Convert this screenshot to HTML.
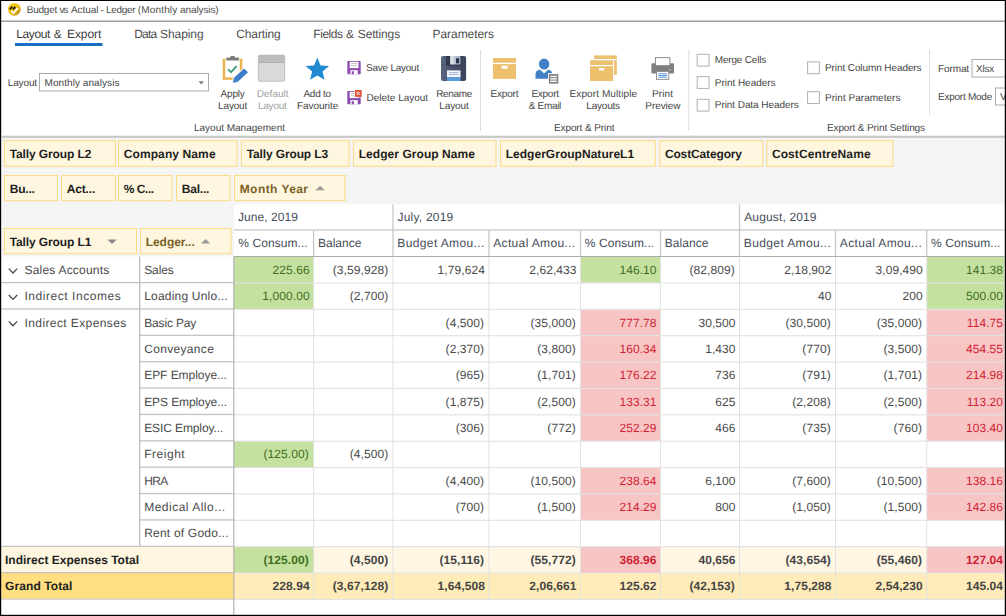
<!DOCTYPE html>
<html><head><meta charset="utf-8"><title>Budget vs Actual - Ledger (Monthly analysis)</title>
<style>
html,body{margin:0;padding:0;overflow:hidden;}
body{width:1006px;height:616px;position:relative;overflow:hidden;background:#fff;font-family:'Liberation Sans',sans-serif;}
.t{position:absolute;white-space:pre;font-family:'Liberation Sans',sans-serif;text-rendering:geometricPrecision;}
div,svg{box-sizing:border-box;}
svg{position:absolute;overflow:visible;}
</style></head><body>
<svg width="1006" height="616" viewBox="0 0 1006 616" style="left:0;top:0">
<rect x="0" y="20" width="1006" height="1" fill="#cdcdcd"/>
<rect x="0" y="21" width="1006" height="1" fill="#a0a0a0"/>
<svg x="7" y="2" width="15" height="15" viewBox="0 0 15 15" overflow="visible"><defs><linearGradient id="gd" x1="0" y1="0" x2="1" y2="1"><stop offset="0" stop-color="#fdd820"/><stop offset="0.45" stop-color="#f4c416"/><stop offset="0.75" stop-color="#d3a31c"/><stop offset="1" stop-color="#bf8f1a"/></linearGradient></defs>
<circle cx="7.3" cy="7.3" r="6.4" fill="url(#gd)"/>
<path d="M4.4 9 L6.5 11 L10.9 6.1" stroke="#fff" stroke-width="1.6" fill="none"/>
<path d="M2.8 7.4 L5.4 4.5 M6 7.4 L8.3 4.8" stroke="#1a1a1a" stroke-width="1.8" fill="none"/></svg>
<rect x="15" y="43" width="87.5" height="3" fill="#1b6ec2"/>
<rect x="39.5" y="73.5" width="169" height="17.5" fill="#fff" stroke="#ababab"/>
<path d="M198.6 81.3 H204 L201.3 84.5 Z" fill="#808080"/>
<g>
<rect x="222.7" y="58.8" width="19.6" height="21" fill="#e9b24a"/>
<rect x="225.2" y="59.4" width="14.6" height="18" fill="#fff"/>
<rect x="226.4" y="57.6" width="12.5" height="2.9" fill="#7a7a7a"/>
<rect x="230.3" y="56" width="4.6" height="2.5" rx="1.2" fill="#7a7a7a"/>
<path d="M228 69.4 L231 72.2 L236.6 66.2" stroke="#3f9a78" stroke-width="1.8" fill="none"/>
<path d="M244 68.5 L248 72.2 L237.5 82 L233.3 82.3 L233.6 78.2 Z" fill="#fff" stroke="#fff" stroke-width="2"/>
<path d="M244 68.5 L248 72.2 L237.5 82 L233.6 78.2 Z" fill="#3b7cc9"/>
<path d="M233.6 78.2 L237.5 82 L233 82.8 Z" fill="#3b7cc9"/>
</g>
<g>
<rect x="258.3" y="55.1" width="26.4" height="26.2" rx="1.6" fill="#d9d9d9" stroke="#b5b5b5" stroke-width="0.8"/>
<path d="M258.3 56.7 a1.6 1.6 0 0 1 1.6 -1.6 h23.2 a1.6 1.6 0 0 1 1.6 1.6 v5.8 h-26.4 Z" fill="#bcbcbc"/>
<rect x="258.3" y="62.2" width="26.4" height="0.8" fill="#a8a8a8"/>
</g>
<path d="M317.30 57.60 L320.53 65.45 L329.00 66.10 L322.53 71.60 L324.53 79.85 L317.30 75.40 L310.07 79.85 L312.07 71.60 L305.60 66.10 L314.07 65.45 Z" fill="#1f89d2"/>
<g transform="translate(347.3 61)">
<rect x="0" y="0" width="13.4" height="13.2" rx="0.8" fill="#8d4db0"/>
<rect x="2.4" y="0.8" width="8.8" height="6.3" fill="#fff"/>
<rect x="3.6" y="2.2" width="6.2" height="0.9" fill="#bbb"/><rect x="3.6" y="4.3" width="6.2" height="0.9" fill="#bbb"/>
<rect x="3.1" y="9.2" width="7.3" height="4" fill="#fff"/>
<rect x="4.4" y="10.2" width="2.2" height="3" fill="#8d4db0"/></g>
<g transform="translate(347.3 91)">
<rect x="0" y="0" width="13.4" height="13.2" rx="0.8" fill="#8d4db0"/>
<rect x="2.4" y="0.8" width="8.8" height="6.3" fill="#fff"/>
<rect x="3.6" y="2.2" width="6.2" height="0.9" fill="#bbb"/><rect x="3.6" y="4.3" width="6.2" height="0.9" fill="#bbb"/>
<rect x="3.1" y="9.2" width="7.3" height="4" fill="#fff"/>
<rect x="4.4" y="10.2" width="2.2" height="3" fill="#8d4db0"/><rect x="7" y="-1.6" width="8" height="8" fill="#fff"/><rect x="7.6" y="-1" width="6.8" height="6.9" fill="#e0553b"/>
<path d="M9.5 0.9 L12.5 3.9 M12.5 0.9 L9.5 3.9" stroke="#fff" stroke-width="1"/></g>
<g>
<defs><linearGradient id="nv" x1="0" y1="0" x2="1" y2="0"><stop offset="0" stop-color="#5a6680"/><stop offset="0.5" stop-color="#454f68"/><stop offset="1" stop-color="#3a435a"/></linearGradient>
<linearGradient id="sh" x1="0" y1="0" x2="1" y2="0"><stop offset="0" stop-color="#e8edf4"/><stop offset="1" stop-color="#9aa6ba"/></linearGradient></defs>
<rect x="441" y="56" width="25.1" height="25" rx="2" fill="url(#nv)"/>
<rect x="446" y="56" width="15.8" height="10" fill="#333b50"/>
<rect x="450.2" y="56" width="10.3" height="8.5" fill="url(#sh)"/>
<rect x="455.9" y="58.2" width="3.1" height="5.1" fill="#2c3346"/>
<rect x="447" y="70.4" width="13.5" height="6.8" fill="#f2f5fa"/>
<rect x="449" y="72.2" width="9.5" height="0.9" fill="#9fb0d0"/><rect x="449" y="74" width="9.5" height="0.9" fill="#9fb0d0"/>
<rect x="447" y="77" width="13.5" height="4" fill="#5b9bd8"/>
</g>
<rect x="480" y="50" width="1" height="81" fill="#dcdcdc"/>
<g><rect x="493" y="58" width="23" height="4.8" fill="#ecc06c"/><rect x="493" y="64.1" width="23" height="14.8" fill="#ecc06c"/>
<rect x="501.6" y="65.7" width="6" height="3" fill="#fff"/></g>
<g>
<ellipse cx="544.1" cy="64.1" rx="5.2" ry="5.5" fill="#4180c4"/>
<path d="M535.5 78.7 V74.2 Q535.5 70.2 540.2 69.8 L544.1 73.4 L548 69.8 Q552.3 70.2 552.3 74.2 V78.7 Z" fill="#4180c4"/>
<rect x="548" y="73.2" width="11.2" height="11.3" fill="#fff"/>
<rect x="548.9" y="74.1" width="9.4" height="9.5" fill="#7f7f7f"/>
<rect x="550.4" y="75.8" width="6.4" height="1.4" fill="#fff"/><rect x="550.4" y="78.2" width="6.4" height="1.4" fill="#fff"/><rect x="550.4" y="80.6" width="6.4" height="1.4" fill="#fff"/>
</g>
<g>
<rect x="594.1" y="55.4" width="22.7" height="3.6" fill="#ecc06c"/><rect x="594.1" y="60" width="22.7" height="14.9" fill="#ecc06c"/>
<rect x="589" y="59.4" width="25.1" height="22.6" fill="#fff"/>
<rect x="590" y="60.3" width="23.1" height="4.7" fill="#ecc06c"/><rect x="590" y="66.2" width="23.1" height="14.8" fill="#ecc06c"/>
<rect x="598.9" y="68.1" width="5.4" height="2.4" fill="#fff"/></g>
<g>
<rect x="651.4" y="63.3" width="22.6" height="10.3" rx="1" fill="#808080"/>
<rect x="655.4" y="57.7" width="14.5" height="8" fill="#fff" stroke="#808080" stroke-width="0.9"/>
<rect x="656.5" y="71.3" width="12.3" height="8" fill="#fff" stroke="#808080" stroke-width="0.9"/>
<rect x="658.3" y="73.3" width="8.8" height="0.9" fill="#4a86cc"/><rect x="658.3" y="75" width="8.8" height="0.9" fill="#4a86cc"/><rect x="658.3" y="76.7" width="8.8" height="0.9" fill="#4a86cc"/>
<rect x="669.4" y="69.2" width="1.4" height="1.4" fill="#d0d0d0"/></g>
<rect x="688.3" y="50" width="1" height="81" fill="#dcdcdc"/>
<rect x="697.2" y="54.3" width="11.8" height="11.8" fill="#fff" stroke="#b0b0b0"/>
<rect x="697.2" y="76.6" width="11.8" height="11.8" fill="#fff" stroke="#b0b0b0"/>
<rect x="697.2" y="99.3" width="11.8" height="11.8" fill="#fff" stroke="#b0b0b0"/>
<rect x="807.6" y="61.9" width="11.8" height="11.8" fill="#fff" stroke="#b0b0b0"/>
<rect x="807.6" y="91.7" width="11.8" height="11.8" fill="#fff" stroke="#b0b0b0"/>
<rect x="929.1" y="50" width="1" height="65.5" fill="#dcdcdc"/>
<rect x="972" y="59.5" width="39" height="17.5" fill="#fff" stroke="#ababab"/>
<rect x="995.5" y="88" width="19" height="17" fill="#fff" stroke="#ababab"/>
<rect x="0" y="137.3" width="1006" height="67.2" fill="#f4f4f5"/>
<rect x="0" y="135.5" width="1006" height="0.8" fill="#dedede"/>
<rect x="0" y="136.2" width="1006" height="1.5" fill="#bcbcbc"/>
<rect x="0" y="204" width="234" height="52.5" fill="#f4f4f5"/>
<rect x="1" y="135" width="1" height="121.5" fill="#fff"/>
<rect x="0" y="169.8" width="1006" height="1" fill="#fbfbfb"/>
<rect x="4.5" y="140.7" width="111" height="25.6" fill="#fff6df" stroke="#fddb84"/>
<rect x="118.5" y="140.7" width="118.5" height="25.6" fill="#fff6df" stroke="#fddb84"/>
<rect x="241.5" y="140.7" width="107.5" height="25.6" fill="#fff6df" stroke="#fddb84"/>
<rect x="353.5" y="140.7" width="142.5" height="25.6" fill="#fff6df" stroke="#fddb84"/>
<rect x="500.5" y="140.7" width="154.8" height="25.6" fill="#fff6df" stroke="#fddb84"/>
<rect x="659.7" y="140.7" width="103.1" height="25.6" fill="#fff6df" stroke="#fddb84"/>
<rect x="766.7" y="140.7" width="126.1" height="25.6" fill="#fff6df" stroke="#fddb84"/>
<rect x="4.5" y="175.5" width="53" height="25.2" fill="#fff6df" stroke="#fddb84"/>
<rect x="61.5" y="175.5" width="54" height="25.2" fill="#fff6df" stroke="#fddb84"/>
<rect x="118.5" y="175.5" width="53.5" height="25.2" fill="#fff6df" stroke="#fddb84"/>
<rect x="176.5" y="175.5" width="53.5" height="25.2" fill="#fff6df" stroke="#fddb84"/>
<rect x="234.5" y="175.5" width="110.5" height="25.2" fill="#fff6df" stroke="#fddb84"/>
<path d="M315.5 190.3 L320.1 185.8 L324.7 190.3 Z" fill="#9a9a9a"/>
<rect x="4.5" y="228.5" width="132" height="25.2" fill="#fff6df" stroke="#fddb84"/>
<path d="M107.3 239.5 H116.8 L112.05 244.1 Z" fill="#8a8a8a"/>
<rect x="140.5" y="228.5" width="90.5" height="25.2" fill="#fff6df" stroke="#fddb84"/>
<path d="M201 243.5 L205.6 239 L210.2 243.5 Z" fill="#9a9a9a"/>
<rect x="234" y="204.5" width="772" height="52" fill="#fff"/>
<rect x="1" y="546.57" width="233" height="26.37" fill="#fff6e0"/>
<rect x="234" y="546.57" width="770.7" height="26.37" fill="#fff7e4"/>
<rect x="1" y="572.94" width="233" height="26.37" fill="#ffdf80"/>
<rect x="234" y="572.94" width="770.7" height="26.37" fill="#ffecb8"/>
<path d="M8.8 268.60 L13 273.00 L17.2 268.60" stroke="#444" stroke-width="1.25" fill="none"/>
<rect x="234" y="256.5" width="79.6" height="26.37" fill="#c5e1a0"/>
<rect x="580.5" y="256.5" width="80" height="26.37" fill="#c5e1a0"/>
<rect x="926.75" y="256.5" width="77.95" height="26.37" fill="#c5e1a0"/>
<path d="M8.8 294.97 L13 299.37 L17.2 294.97" stroke="#444" stroke-width="1.25" fill="none"/>
<rect x="234" y="282.87" width="79.6" height="26.37" fill="#c5e1a0"/>
<rect x="926.75" y="282.87" width="77.95" height="26.37" fill="#c5e1a0"/>
<path d="M8.8 321.34 L13 325.74 L17.2 321.34" stroke="#444" stroke-width="1.25" fill="none"/>
<rect x="580.5" y="309.24" width="80" height="26.37" fill="#f8c5c5"/>
<rect x="926.75" y="309.24" width="77.95" height="26.37" fill="#f8c5c5"/>
<rect x="580.5" y="335.61" width="80" height="26.37" fill="#f8c5c5"/>
<rect x="926.75" y="335.61" width="77.95" height="26.37" fill="#f8c5c5"/>
<rect x="580.5" y="361.98" width="80" height="26.37" fill="#f8c5c5"/>
<rect x="926.75" y="361.98" width="77.95" height="26.37" fill="#f8c5c5"/>
<rect x="580.5" y="388.35" width="80" height="26.37" fill="#f8c5c5"/>
<rect x="926.75" y="388.35" width="77.95" height="26.37" fill="#f8c5c5"/>
<rect x="580.5" y="414.72" width="80" height="26.37" fill="#f8c5c5"/>
<rect x="926.75" y="414.72" width="77.95" height="26.37" fill="#f8c5c5"/>
<rect x="234" y="441.09" width="79.6" height="26.37" fill="#c5e1a0"/>
<rect x="580.5" y="467.46" width="80" height="26.37" fill="#f8c5c5"/>
<rect x="926.75" y="467.46" width="77.95" height="26.37" fill="#f8c5c5"/>
<rect x="580.5" y="493.83" width="80" height="26.37" fill="#f8c5c5"/>
<rect x="926.75" y="493.83" width="77.95" height="26.37" fill="#f8c5c5"/>
<rect x="234" y="546.57" width="79.6" height="26.37" fill="#c5e1a0"/>
<rect x="580.5" y="546.57" width="80" height="26.37" fill="#f8c5c5"/>
<rect x="926.75" y="546.57" width="77.95" height="26.37" fill="#f8c5c5"/>
<rect x="234" y="282.42" width="770.7" height="1.1" fill="#e2e2e2"/>
<rect x="234" y="308.79" width="770.7" height="1.1" fill="#e2e2e2"/>
<rect x="234" y="335.16" width="770.7" height="1.1" fill="#e2e2e2"/>
<rect x="234" y="361.53" width="770.7" height="1.1" fill="#e2e2e2"/>
<rect x="234" y="387.9" width="770.7" height="1.1" fill="#e2e2e2"/>
<rect x="234" y="414.27" width="770.7" height="1.1" fill="#e2e2e2"/>
<rect x="234" y="440.64" width="770.7" height="1.1" fill="#e2e2e2"/>
<rect x="234" y="467.01" width="770.7" height="1.1" fill="#e2e2e2"/>
<rect x="234" y="493.38" width="770.7" height="1.1" fill="#e2e2e2"/>
<rect x="234" y="519.75" width="770.7" height="1.1" fill="#e2e2e2"/>
<rect x="234" y="546.12" width="770.7" height="1.1" fill="#e2e2e2"/>
<rect x="234" y="572.49" width="770.7" height="1.1" fill="#e2e2e2"/>
<rect x="234" y="598.86" width="770.7" height="1.1" fill="#e2e2e2"/>
<rect x="313.1" y="256.5" width="1" height="342.81" fill="#e2e2e2"/>
<rect x="392.5" y="256.5" width="1" height="342.81" fill="#e2e2e2"/>
<rect x="488.4" y="256.5" width="1" height="342.81" fill="#e2e2e2"/>
<rect x="580" y="256.5" width="1" height="342.81" fill="#e2e2e2"/>
<rect x="660" y="256.5" width="1" height="342.81" fill="#e2e2e2"/>
<rect x="739" y="256.5" width="1" height="342.81" fill="#e2e2e2"/>
<rect x="835" y="256.5" width="1" height="342.81" fill="#e2e2e2"/>
<rect x="926.25" y="256.5" width="1" height="342.81" fill="#e2e2e2"/>
<rect x="234" y="229.4" width="772" height="1.2" fill="#c4c4c4"/>
<rect x="234" y="256" width="772" height="1" fill="#acacac"/>
<rect x="392.4" y="204.5" width="1.2" height="52" fill="#c4c4c4"/>
<rect x="738.9" y="204.5" width="1.2" height="52" fill="#c4c4c4"/>
<rect x="313" y="230" width="1.2" height="26" fill="#c4c4c4"/>
<rect x="488.3" y="230" width="1.2" height="26" fill="#c4c4c4"/>
<rect x="579.9" y="230" width="1.2" height="26" fill="#c4c4c4"/>
<rect x="659.9" y="230" width="1.2" height="26" fill="#c4c4c4"/>
<rect x="834.9" y="230" width="1.2" height="26" fill="#c4c4c4"/>
<rect x="926.15" y="230" width="1.2" height="26" fill="#c4c4c4"/>
<rect x="1" y="281.97" width="138" height="1.25" fill="#c2c2c2"/>
<rect x="1" y="308.34" width="138" height="1.25" fill="#c2c2c2"/>
<rect x="139" y="281.97" width="95" height="1.25" fill="#c2c2c2"/>
<rect x="139" y="308.34" width="95" height="1.25" fill="#c2c2c2"/>
<rect x="139" y="334.71" width="95" height="1.25" fill="#c2c2c2"/>
<rect x="139" y="361.08" width="95" height="1.25" fill="#c2c2c2"/>
<rect x="139" y="387.45" width="95" height="1.25" fill="#c2c2c2"/>
<rect x="139" y="413.82" width="95" height="1.25" fill="#c2c2c2"/>
<rect x="139" y="440.19" width="95" height="1.25" fill="#c2c2c2"/>
<rect x="139" y="466.56" width="95" height="1.25" fill="#c2c2c2"/>
<rect x="139" y="492.93" width="95" height="1.25" fill="#c2c2c2"/>
<rect x="139" y="519.3" width="95" height="1.25" fill="#c2c2c2"/>
<rect x="1" y="545.67" width="233" height="1.25" fill="#c2c2c2"/>
<rect x="1" y="572.04" width="233" height="1.25" fill="#c2c2c2"/>
<rect x="1" y="598.41" width="233" height="1.25" fill="#cdcdd0"/>
<rect x="139.05" y="256.5" width="1.3" height="290.07" fill="#bcbcbc"/>
<rect x="233.25" y="256.5" width="1.15" height="359.5" fill="#b0b0b0"/>
<rect x="1004.7" y="137" width="0.5" height="478" fill="#fff"/>
</svg>
<span class="t" style="left:26.80px;top:4.00px;font-size:10px;line-height:14px;color:#4b4b4b;letter-spacing:-0.251px;">Budget</span>
<span class="t" style="left:59.60px;top:4.00px;font-size:10px;line-height:14px;color:#4b4b4b;letter-spacing:-1.300px;">vs</span>
<span class="t" style="left:71.00px;top:4.00px;font-size:10px;line-height:14px;color:#4b4b4b;letter-spacing:-0.049px;">Actual</span>
<span class="t" style="left:100.60px;top:4.00px;font-size:10px;line-height:14px;color:#4b4b4b;letter-spacing:-0.844px;">-</span>
<span class="t" style="left:106.00px;top:4.00px;font-size:10px;line-height:14px;color:#4b4b4b;letter-spacing:-0.307px;">Ledger</span>
<span class="t" style="left:137.80px;top:4.00px;font-size:10px;line-height:14px;color:#4b4b4b;letter-spacing:0.155px;">(Monthly</span>
<span class="t" style="left:180.00px;top:4.00px;font-size:10px;line-height:14px;color:#4b4b4b;letter-spacing:-0.097px;">analysis)</span>
<span class="t" style="left:16.20px;top:26.00px;font-size:12px;line-height:16px;color:#3c3c3c;letter-spacing:-0.372px;">Layout</span>
<span class="t" style="left:53.80px;top:26.00px;font-size:12px;line-height:16px;color:#3c3c3c;letter-spacing:0.584px;">&amp;</span>
<span class="t" style="left:67.00px;top:26.00px;font-size:12px;line-height:16px;color:#3c3c3c;letter-spacing:-0.081px;">Export</span>
<span class="t" style="left:134.30px;top:26.00px;font-size:12px;line-height:16px;color:#4e4e4e;letter-spacing:-0.865px;">Data</span>
<span class="t" style="left:160.00px;top:26.00px;font-size:12px;line-height:16px;color:#4e4e4e;letter-spacing:-0.064px;">Shaping</span>
<span class="t" style="left:236.30px;top:26.00px;font-size:12px;line-height:16px;color:#4e4e4e;letter-spacing:-0.132px;">Charting</span>
<span class="t" style="left:313.30px;top:26.00px;font-size:12px;line-height:16px;color:#4e4e4e;letter-spacing:-0.453px;">Fields</span>
<span class="t" style="left:346.00px;top:26.00px;font-size:12px;line-height:16px;color:#4e4e4e;letter-spacing:-0.016px;">&amp;</span>
<span class="t" style="left:357.80px;top:26.00px;font-size:12px;line-height:16px;color:#4e4e4e;letter-spacing:-0.145px;">Settings</span>
<span class="t" style="left:432.50px;top:26.00px;font-size:12px;line-height:16px;color:#4e4e4e;letter-spacing:-0.053px;">Parameters</span>
<span class="t" style="left:7.70px;top:77.00px;font-size:10px;line-height:14px;color:#454545;letter-spacing:-0.122px;">Layout</span>
<span class="t" style="left:44.50px;top:77.00px;font-size:10px;line-height:14px;color:#454545;letter-spacing:0.067px;">Monthly analysis</span>
<span class="t" style="left:220.60px;top:88.00px;font-size:10px;line-height:14px;color:#454545;letter-spacing:-0.203px;">Apply</span>
<span class="t" style="left:218.11px;top:100.00px;font-size:10px;line-height:14px;color:#454545;letter-spacing:-0.172px;">Layout</span>
<span class="t" style="left:256.81px;top:88.00px;font-size:10px;line-height:14px;color:#a0a0a0;letter-spacing:0.016px;">Default</span>
<span class="t" style="left:257.90px;top:100.00px;font-size:10px;line-height:14px;color:#a0a0a0;letter-spacing:-0.205px;">Layout</span>
<span class="t" style="left:303.43px;top:88.00px;font-size:10px;line-height:14px;color:#454545;letter-spacing:-0.237px;">Add to</span>
<span class="t" style="left:296.97px;top:100.00px;font-size:10px;line-height:14px;color:#454545;letter-spacing:-0.054px;">Favourite</span>
<span class="t" style="left:366.00px;top:62.00px;font-size:10px;line-height:14px;color:#454545;letter-spacing:-0.237px;">Save Layout</span>
<span class="t" style="left:366.60px;top:92.00px;font-size:10px;line-height:14px;color:#454545;letter-spacing:-0.017px;">Delete Layout</span>
<span class="t" style="left:436.15px;top:88.00px;font-size:10px;line-height:14px;color:#454545;letter-spacing:-0.302px;">Rename</span>
<span class="t" style="left:439.33px;top:100.00px;font-size:10px;line-height:14px;color:#454545;letter-spacing:-0.139px;">Layout</span>
<span class="t" style="left:193.99px;top:122.00px;font-size:10px;line-height:14px;color:#454545;letter-spacing:-0.010px;">Layout Management</span>
<span class="t" style="left:490.51px;top:88.00px;font-size:10px;line-height:14px;color:#454545;letter-spacing:-0.184px;">Export</span>
<span class="t" style="left:531.42px;top:88.00px;font-size:10px;line-height:14px;color:#454545;letter-spacing:-0.268px;">Export</span>
<span class="t" style="left:528.70px;top:100.00px;font-size:10px;line-height:14px;color:#454545;letter-spacing:-0.308px;">&amp; Email</span>
<span class="t" style="left:569.60px;top:88.00px;font-size:10px;line-height:14px;color:#454545;letter-spacing:0.091px;">Export Multiple</span>
<span class="t" style="left:586.34px;top:100.00px;font-size:10px;line-height:14px;color:#454545;letter-spacing:-0.219px;">Layouts</span>
<span class="t" style="left:652.00px;top:88.00px;font-size:10px;line-height:14px;color:#454545;letter-spacing:0.108px;">Print</span>
<span class="t" style="left:645.36px;top:100.00px;font-size:10px;line-height:14px;color:#454545;letter-spacing:-0.083px;">Preview</span>
<span class="t" style="left:553.91px;top:122.00px;font-size:10px;line-height:14px;color:#454545;letter-spacing:-0.086px;">Export &amp; Print</span>
<span class="t" style="left:714.80px;top:54.00px;font-size:10px;line-height:14px;color:#454545;letter-spacing:-0.196px;">Merge Cells</span>
<span class="t" style="left:714.80px;top:77.00px;font-size:10px;line-height:14px;color:#454545;letter-spacing:-0.034px;">Print Headers</span>
<span class="t" style="left:714.80px;top:99.00px;font-size:10px;line-height:14px;color:#454545;letter-spacing:-0.069px;">Print Data Headers</span>
<span class="t" style="left:825.00px;top:62.00px;font-size:10px;line-height:14px;color:#454545;letter-spacing:-0.094px;">Print Column Headers</span>
<span class="t" style="left:825.00px;top:92.00px;font-size:10px;line-height:14px;color:#454545;letter-spacing:0.029px;">Print Parameters</span>
<span class="t" style="left:826.94px;top:122.00px;font-size:10px;line-height:14px;color:#454545;letter-spacing:-0.113px;">Export &amp; Print Settings</span>
<span class="t" style="left:938.00px;top:63.00px;font-size:10px;line-height:14px;color:#454545;letter-spacing:-0.112px;">Format</span>
<span class="t" style="left:976.00px;top:63.00px;font-size:10px;line-height:14px;color:#454545;letter-spacing:-0.227px;">Xlsx</span>
<span class="t" style="left:938.00px;top:91.00px;font-size:10px;line-height:14px;color:#454545;letter-spacing:-0.246px;">Export Mode</span>
<span class="t" style="left:1000.00px;top:91.00px;font-size:10px;line-height:14px;color:#454545;">V</span>
<span class="t" style="left:9.70px;top:146.00px;font-size:12px;line-height:16px;color:#1e1e1e;font-weight:700;letter-spacing:-0.116px;">Tally Group L2</span>
<span class="t" style="left:123.70px;top:146.00px;font-size:12px;line-height:16px;color:#1e1e1e;font-weight:700;letter-spacing:0.108px;">Company Name</span>
<span class="t" style="left:246.70px;top:146.00px;font-size:12px;line-height:16px;color:#1e1e1e;font-weight:700;letter-spacing:-0.130px;">Tally Group L3</span>
<span class="t" style="left:358.70px;top:146.00px;font-size:12px;line-height:16px;color:#1e1e1e;font-weight:700;letter-spacing:0.055px;">Ledger Group Name</span>
<span class="t" style="left:505.70px;top:146.00px;font-size:12px;line-height:16px;color:#1e1e1e;font-weight:700;letter-spacing:0.025px;">LedgerGroupNatureL1</span>
<span class="t" style="left:664.90px;top:146.00px;font-size:12px;line-height:16px;color:#1e1e1e;font-weight:700;letter-spacing:-0.141px;">CostCategory</span>
<span class="t" style="left:771.90px;top:146.00px;font-size:12px;line-height:16px;color:#1e1e1e;font-weight:700;letter-spacing:0.103px;">CostCentreName</span>
<span class="t" style="left:9.70px;top:181.00px;font-size:12px;line-height:16px;color:#1e1e1e;font-weight:700;letter-spacing:-0.200px;">Bu...</span>
<span class="t" style="left:66.70px;top:181.00px;font-size:12px;line-height:16px;color:#1e1e1e;font-weight:700;letter-spacing:-0.141px;">Act...</span>
<span class="t" style="left:123.70px;top:181.00px;font-size:12px;line-height:16px;color:#1e1e1e;font-weight:700;letter-spacing:-0.445px;">% C...</span>
<span class="t" style="left:181.70px;top:181.00px;font-size:12px;line-height:16px;color:#1e1e1e;font-weight:700;letter-spacing:-0.198px;">Bal...</span>
<span class="t" style="left:239.70px;top:181.00px;font-size:12px;line-height:16px;color:#7a6128;font-weight:700;letter-spacing:0.433px;">Month Year</span>
<span class="t" style="left:9.70px;top:234.00px;font-size:12px;line-height:16px;color:#1e1e1e;font-weight:700;letter-spacing:-0.116px;">Tally Group L1</span>
<span class="t" style="left:145.70px;top:234.00px;font-size:12px;line-height:16px;color:#7a6128;font-weight:700;letter-spacing:-0.040px;">Ledger...</span>
<span class="t" style="left:238.00px;top:209.00px;font-size:12px;line-height:16px;color:#464d59;letter-spacing:0.061px;">June, 2019</span>
<span class="t" style="left:397.50px;top:209.00px;font-size:12px;line-height:16px;color:#464d59;letter-spacing:0.219px;">July, 2019</span>
<span class="t" style="left:744.20px;top:209.00px;font-size:12px;line-height:16px;color:#464d59;letter-spacing:0.147px;">August, 2019</span>
<span class="t" style="left:238.30px;top:235.00px;font-size:12px;line-height:16px;color:#464d59;letter-spacing:0.072px;">% Consum...</span>
<span class="t" style="left:317.90px;top:235.00px;font-size:12px;line-height:16px;color:#464d59;letter-spacing:0.046px;">Balance</span>
<span class="t" style="left:397.30px;top:235.00px;font-size:12px;line-height:16px;color:#464d59;letter-spacing:0.388px;">Budget Amou...</span>
<span class="t" style="left:493.20px;top:235.00px;font-size:12px;line-height:16px;color:#464d59;letter-spacing:0.352px;">Actual Amou...</span>
<span class="t" style="left:584.80px;top:235.00px;font-size:12px;line-height:16px;color:#464d59;letter-spacing:0.072px;">% Consum...</span>
<span class="t" style="left:664.80px;top:235.00px;font-size:12px;line-height:16px;color:#464d59;letter-spacing:0.046px;">Balance</span>
<span class="t" style="left:743.80px;top:235.00px;font-size:12px;line-height:16px;color:#464d59;letter-spacing:0.388px;">Budget Amou...</span>
<span class="t" style="left:839.80px;top:235.00px;font-size:12px;line-height:16px;color:#464d59;letter-spacing:0.352px;">Actual Amou...</span>
<span class="t" style="left:931.05px;top:235.00px;font-size:12px;line-height:16px;color:#464d59;letter-spacing:0.072px;">% Consum...</span>
<span class="t" style="left:24.50px;top:262.00px;font-size:12px;line-height:16px;color:#4a4a4a;letter-spacing:0.210px;">Sales Accounts</span>
<span class="t" style="left:144.20px;top:262.00px;font-size:12px;line-height:16px;color:#4a4a4a;letter-spacing:-0.106px;">Sales</span>
<span class="t" style="left:272.50px;top:262.00px;font-size:12px;line-height:16px;color:#3f6e1f;letter-spacing:0.080px;">225.66</span>
<span class="t" style="left:332.78px;top:262.00px;font-size:12px;line-height:16px;color:#4a4a4a;letter-spacing:0.080px;">(3,59,928)</span>
<span class="t" style="left:437.62px;top:262.00px;font-size:12px;line-height:16px;color:#4a4a4a;letter-spacing:0.080px;">1,79,624</span>
<span class="t" style="left:529.22px;top:262.00px;font-size:12px;line-height:16px;color:#4a4a4a;letter-spacing:0.080px;">2,62,433</span>
<span class="t" style="left:619.40px;top:262.00px;font-size:12px;line-height:16px;color:#3f6e1f;letter-spacing:0.080px;">146.10</span>
<span class="t" style="left:689.44px;top:262.00px;font-size:12px;line-height:16px;color:#4a4a4a;letter-spacing:0.080px;">(82,809)</span>
<span class="t" style="left:784.22px;top:262.00px;font-size:12px;line-height:16px;color:#4a4a4a;letter-spacing:0.080px;">2,18,902</span>
<span class="t" style="left:875.47px;top:262.00px;font-size:12px;line-height:16px;color:#4a4a4a;letter-spacing:0.080px;">3,09,490</span>
<span class="t" style="left:965.90px;top:262.00px;font-size:12px;line-height:16px;color:#3f6e1f;letter-spacing:0.080px;">141.38</span>
<span class="t" style="left:24.50px;top:288.00px;font-size:12px;line-height:16px;color:#4a4a4a;letter-spacing:0.541px;">Indirect Incomes</span>
<span class="t" style="left:144.20px;top:288.00px;font-size:12px;line-height:16px;color:#4a4a4a;letter-spacing:0.198px;">Loading Unlo...</span>
<span class="t" style="left:262.32px;top:288.00px;font-size:12px;line-height:16px;color:#3f6e1f;letter-spacing:0.080px;">1,000.00</span>
<span class="t" style="left:349.69px;top:288.00px;font-size:12px;line-height:16px;color:#4a4a4a;letter-spacing:0.080px;">(2,700)</span>
<span class="t" style="left:818.06px;top:288.00px;font-size:12px;line-height:16px;color:#4a4a4a;letter-spacing:0.080px;">40</span>
<span class="t" style="left:902.56px;top:288.00px;font-size:12px;line-height:16px;color:#4a4a4a;letter-spacing:0.080px;">200</span>
<span class="t" style="left:965.90px;top:288.00px;font-size:12px;line-height:16px;color:#3f6e1f;letter-spacing:0.080px;">500.00</span>
<span class="t" style="left:24.50px;top:315.00px;font-size:12px;line-height:16px;color:#4a4a4a;letter-spacing:0.401px;">Indirect Expenses</span>
<span class="t" style="left:144.20px;top:315.00px;font-size:12px;line-height:16px;color:#4a4a4a;letter-spacing:-0.151px;">Basic Pay</span>
<span class="t" style="left:445.59px;top:315.00px;font-size:12px;line-height:16px;color:#4a4a4a;letter-spacing:0.080px;">(4,500)</span>
<span class="t" style="left:530.44px;top:315.00px;font-size:12px;line-height:16px;color:#4a4a4a;letter-spacing:0.080px;">(35,000)</span>
<span class="t" style="left:619.40px;top:315.00px;font-size:12px;line-height:16px;color:#cf1f33;letter-spacing:0.080px;">777.78</span>
<span class="t" style="left:698.40px;top:315.00px;font-size:12px;line-height:16px;color:#4a4a4a;letter-spacing:0.080px;">30,500</span>
<span class="t" style="left:785.44px;top:315.00px;font-size:12px;line-height:16px;color:#4a4a4a;letter-spacing:0.080px;">(30,500)</span>
<span class="t" style="left:876.69px;top:315.00px;font-size:12px;line-height:16px;color:#4a4a4a;letter-spacing:0.080px;">(35,000)</span>
<span class="t" style="left:966.79px;top:315.00px;font-size:12px;line-height:16px;color:#cf1f33;letter-spacing:0.080px;">114.75</span>
<span class="t" style="left:144.20px;top:341.00px;font-size:12px;line-height:16px;color:#4a4a4a;letter-spacing:0.328px;">Conveyance</span>
<span class="t" style="left:445.59px;top:341.00px;font-size:12px;line-height:16px;color:#4a4a4a;letter-spacing:0.080px;">(2,370)</span>
<span class="t" style="left:537.19px;top:341.00px;font-size:12px;line-height:16px;color:#4a4a4a;letter-spacing:0.080px;">(3,800)</span>
<span class="t" style="left:619.40px;top:341.00px;font-size:12px;line-height:16px;color:#cf1f33;letter-spacing:0.080px;">160.34</span>
<span class="t" style="left:705.15px;top:341.00px;font-size:12px;line-height:16px;color:#4a4a4a;letter-spacing:0.080px;">1,430</span>
<span class="t" style="left:802.36px;top:341.00px;font-size:12px;line-height:16px;color:#4a4a4a;letter-spacing:0.080px;">(770)</span>
<span class="t" style="left:883.44px;top:341.00px;font-size:12px;line-height:16px;color:#4a4a4a;letter-spacing:0.080px;">(3,500)</span>
<span class="t" style="left:965.90px;top:341.00px;font-size:12px;line-height:16px;color:#cf1f33;letter-spacing:0.080px;">454.55</span>
<span class="t" style="left:144.20px;top:367.00px;font-size:12px;line-height:16px;color:#4a4a4a;letter-spacing:-0.048px;">EPF Employe...</span>
<span class="t" style="left:455.76px;top:367.00px;font-size:12px;line-height:16px;color:#4a4a4a;letter-spacing:0.080px;">(965)</span>
<span class="t" style="left:537.19px;top:367.00px;font-size:12px;line-height:16px;color:#4a4a4a;letter-spacing:0.080px;">(1,701)</span>
<span class="t" style="left:619.40px;top:367.00px;font-size:12px;line-height:16px;color:#cf1f33;letter-spacing:0.080px;">176.22</span>
<span class="t" style="left:715.31px;top:367.00px;font-size:12px;line-height:16px;color:#4a4a4a;letter-spacing:0.080px;">736</span>
<span class="t" style="left:802.36px;top:367.00px;font-size:12px;line-height:16px;color:#4a4a4a;letter-spacing:0.080px;">(791)</span>
<span class="t" style="left:883.44px;top:367.00px;font-size:12px;line-height:16px;color:#4a4a4a;letter-spacing:0.080px;">(1,701)</span>
<span class="t" style="left:965.90px;top:367.00px;font-size:12px;line-height:16px;color:#cf1f33;letter-spacing:0.080px;">214.98</span>
<span class="t" style="left:144.20px;top:394.00px;font-size:12px;line-height:16px;color:#4a4a4a;letter-spacing:-0.096px;">EPS Employe...</span>
<span class="t" style="left:445.59px;top:394.00px;font-size:12px;line-height:16px;color:#4a4a4a;letter-spacing:0.080px;">(1,875)</span>
<span class="t" style="left:537.19px;top:394.00px;font-size:12px;line-height:16px;color:#4a4a4a;letter-spacing:0.080px;">(2,500)</span>
<span class="t" style="left:619.40px;top:394.00px;font-size:12px;line-height:16px;color:#cf1f33;letter-spacing:0.080px;">133.31</span>
<span class="t" style="left:715.31px;top:394.00px;font-size:12px;line-height:16px;color:#4a4a4a;letter-spacing:0.080px;">625</span>
<span class="t" style="left:792.19px;top:394.00px;font-size:12px;line-height:16px;color:#4a4a4a;letter-spacing:0.080px;">(2,208)</span>
<span class="t" style="left:883.44px;top:394.00px;font-size:12px;line-height:16px;color:#4a4a4a;letter-spacing:0.080px;">(2,500)</span>
<span class="t" style="left:966.79px;top:394.00px;font-size:12px;line-height:16px;color:#cf1f33;letter-spacing:0.080px;">113.20</span>
<span class="t" style="left:144.20px;top:420.00px;font-size:12px;line-height:16px;color:#4a4a4a;letter-spacing:-0.105px;">ESIC Employ...</span>
<span class="t" style="left:455.76px;top:420.00px;font-size:12px;line-height:16px;color:#4a4a4a;letter-spacing:0.080px;">(306)</span>
<span class="t" style="left:547.36px;top:420.00px;font-size:12px;line-height:16px;color:#4a4a4a;letter-spacing:0.080px;">(772)</span>
<span class="t" style="left:619.40px;top:420.00px;font-size:12px;line-height:16px;color:#cf1f33;letter-spacing:0.080px;">252.29</span>
<span class="t" style="left:715.31px;top:420.00px;font-size:12px;line-height:16px;color:#4a4a4a;letter-spacing:0.080px;">466</span>
<span class="t" style="left:802.36px;top:420.00px;font-size:12px;line-height:16px;color:#4a4a4a;letter-spacing:0.080px;">(735)</span>
<span class="t" style="left:893.61px;top:420.00px;font-size:12px;line-height:16px;color:#4a4a4a;letter-spacing:0.080px;">(760)</span>
<span class="t" style="left:965.90px;top:420.00px;font-size:12px;line-height:16px;color:#cf1f33;letter-spacing:0.080px;">103.40</span>
<span class="t" style="left:144.20px;top:446.00px;font-size:12px;line-height:16px;color:#4a4a4a;letter-spacing:0.520px;">Freight</span>
<span class="t" style="left:263.54px;top:446.00px;font-size:12px;line-height:16px;color:#3f6e1f;letter-spacing:0.080px;">(125.00)</span>
<span class="t" style="left:349.69px;top:446.00px;font-size:12px;line-height:16px;color:#4a4a4a;letter-spacing:0.080px;">(4,500)</span>
<span class="t" style="left:144.20px;top:473.00px;font-size:12px;line-height:16px;color:#4a4a4a;letter-spacing:-0.615px;">HRA</span>
<span class="t" style="left:445.59px;top:473.00px;font-size:12px;line-height:16px;color:#4a4a4a;letter-spacing:0.080px;">(4,400)</span>
<span class="t" style="left:530.44px;top:473.00px;font-size:12px;line-height:16px;color:#4a4a4a;letter-spacing:0.080px;">(10,500)</span>
<span class="t" style="left:619.40px;top:473.00px;font-size:12px;line-height:16px;color:#cf1f33;letter-spacing:0.080px;">238.64</span>
<span class="t" style="left:705.15px;top:473.00px;font-size:12px;line-height:16px;color:#4a4a4a;letter-spacing:0.080px;">6,100</span>
<span class="t" style="left:792.19px;top:473.00px;font-size:12px;line-height:16px;color:#4a4a4a;letter-spacing:0.080px;">(7,600)</span>
<span class="t" style="left:876.69px;top:473.00px;font-size:12px;line-height:16px;color:#4a4a4a;letter-spacing:0.080px;">(10,500)</span>
<span class="t" style="left:965.90px;top:473.00px;font-size:12px;line-height:16px;color:#cf1f33;letter-spacing:0.080px;">138.16</span>
<span class="t" style="left:144.20px;top:499.00px;font-size:12px;line-height:16px;color:#4a4a4a;letter-spacing:0.497px;">Medical Allo...</span>
<span class="t" style="left:455.76px;top:499.00px;font-size:12px;line-height:16px;color:#4a4a4a;letter-spacing:0.080px;">(700)</span>
<span class="t" style="left:537.19px;top:499.00px;font-size:12px;line-height:16px;color:#4a4a4a;letter-spacing:0.080px;">(1,500)</span>
<span class="t" style="left:619.40px;top:499.00px;font-size:12px;line-height:16px;color:#cf1f33;letter-spacing:0.080px;">214.29</span>
<span class="t" style="left:715.31px;top:499.00px;font-size:12px;line-height:16px;color:#4a4a4a;letter-spacing:0.080px;">800</span>
<span class="t" style="left:792.19px;top:499.00px;font-size:12px;line-height:16px;color:#4a4a4a;letter-spacing:0.080px;">(1,050)</span>
<span class="t" style="left:883.44px;top:499.00px;font-size:12px;line-height:16px;color:#4a4a4a;letter-spacing:0.080px;">(1,500)</span>
<span class="t" style="left:965.90px;top:499.00px;font-size:12px;line-height:16px;color:#cf1f33;letter-spacing:0.080px;">142.86</span>
<span class="t" style="left:144.20px;top:525.00px;font-size:12px;line-height:16px;color:#4a4a4a;letter-spacing:0.207px;">Rent of Godo...</span>
<span class="t" style="left:5.00px;top:552.00px;font-size:12px;line-height:16px;color:#222;font-weight:700;letter-spacing:0.007px;">Indirect Expenses Total</span>
<span class="t" style="left:263.54px;top:552.00px;font-size:12px;line-height:16px;color:#3f6e1f;font-weight:700;letter-spacing:0.080px;">(125.00)</span>
<span class="t" style="left:349.69px;top:552.00px;font-size:12px;line-height:16px;color:#454545;font-weight:700;letter-spacing:0.080px;">(4,500)</span>
<span class="t" style="left:439.49px;top:552.00px;font-size:12px;line-height:16px;color:#454545;font-weight:700;letter-spacing:0.080px;">(15,116)</span>
<span class="t" style="left:530.44px;top:552.00px;font-size:12px;line-height:16px;color:#454545;font-weight:700;letter-spacing:0.080px;">(55,772)</span>
<span class="t" style="left:619.40px;top:552.00px;font-size:12px;line-height:16px;color:#cf1f33;font-weight:700;letter-spacing:0.080px;">368.96</span>
<span class="t" style="left:698.40px;top:552.00px;font-size:12px;line-height:16px;color:#454545;font-weight:700;letter-spacing:0.080px;">40,656</span>
<span class="t" style="left:785.44px;top:552.00px;font-size:12px;line-height:16px;color:#454545;font-weight:700;letter-spacing:0.080px;">(43,654)</span>
<span class="t" style="left:876.69px;top:552.00px;font-size:12px;line-height:16px;color:#454545;font-weight:700;letter-spacing:0.080px;">(55,460)</span>
<span class="t" style="left:965.90px;top:552.00px;font-size:12px;line-height:16px;color:#cf1f33;font-weight:700;letter-spacing:0.080px;">127.04</span>
<span class="t" style="left:5.00px;top:578.00px;font-size:12px;line-height:16px;color:#222;font-weight:700;letter-spacing:0.095px;">Grand Total</span>
<span class="t" style="left:272.50px;top:578.00px;font-size:12px;line-height:16px;color:#454545;font-weight:700;letter-spacing:0.080px;">228.94</span>
<span class="t" style="left:332.78px;top:578.00px;font-size:12px;line-height:16px;color:#454545;font-weight:700;letter-spacing:0.080px;">(3,67,128)</span>
<span class="t" style="left:437.62px;top:578.00px;font-size:12px;line-height:16px;color:#454545;font-weight:700;letter-spacing:0.080px;">1,64,508</span>
<span class="t" style="left:529.22px;top:578.00px;font-size:12px;line-height:16px;color:#454545;font-weight:700;letter-spacing:0.080px;">2,06,661</span>
<span class="t" style="left:619.40px;top:578.00px;font-size:12px;line-height:16px;color:#454545;font-weight:700;letter-spacing:0.080px;">125.62</span>
<span class="t" style="left:689.44px;top:578.00px;font-size:12px;line-height:16px;color:#454545;font-weight:700;letter-spacing:0.080px;">(42,153)</span>
<span class="t" style="left:784.22px;top:578.00px;font-size:12px;line-height:16px;color:#454545;font-weight:700;letter-spacing:0.080px;">1,75,288</span>
<span class="t" style="left:875.47px;top:578.00px;font-size:12px;line-height:16px;color:#454545;font-weight:700;letter-spacing:0.080px;">2,54,230</span>
<span class="t" style="left:965.90px;top:578.00px;font-size:12px;line-height:16px;color:#454545;font-weight:700;letter-spacing:0.080px;">145.04</span>
<div style="position:absolute;left:1px;top:1px;width:1px;height:614px;background:rgba(0,0,0,0.2)"></div><div style="position:absolute;left:1004px;top:1px;width:1px;height:614px;background:rgba(0,0,0,0.22)"></div><div style="position:absolute;left:1px;top:614px;width:1004px;height:1px;background:rgba(0,0,0,0.2)"></div>
<div style="position:absolute;left:0;top:0;width:1006px;height:616px;border:1px solid #000;box-sizing:border-box"></div>
</body></html>
